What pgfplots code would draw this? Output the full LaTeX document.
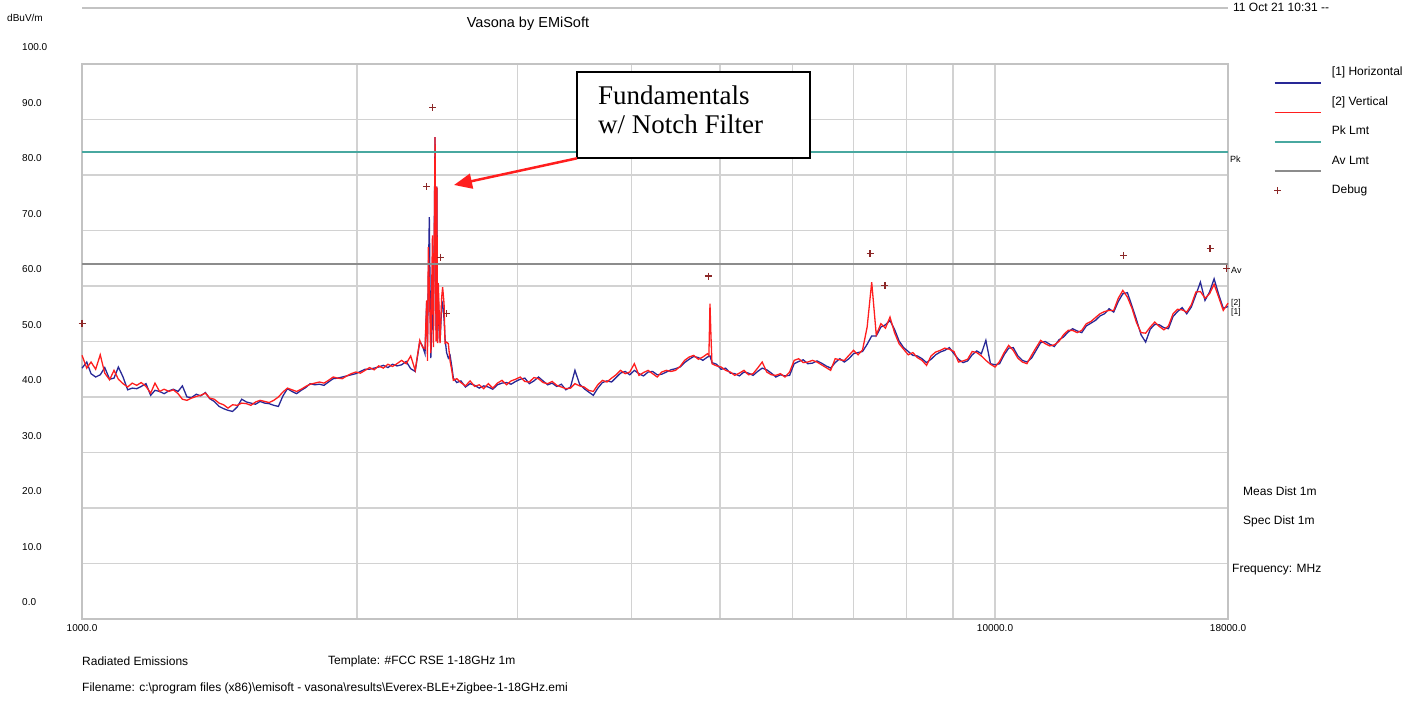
\documentclass[border=0pt]{standalone}
\usepackage{pgfplots}
\pgfplotsset{compat=1.18}
\usepackage{pgfplotstable}
\usepackage{fontspec}
\setmainfont{Liberation Sans}
\newfontfamily\serifann{Liberation Serif}
\usetikzlibrary{arrows.meta}
\definecolor{hblue}{RGB}{40,40,150}
\definecolor{vred}{RGB}{255,30,30}
\definecolor{pkteal}{RGB}{72,168,160}
\definecolor{avgray}{RGB}{140,140,140}
\definecolor{dbgred}{RGB}{140,40,40}
\definecolor{gridgray}{RGB}{210,210,210}
\definecolor{framegray}{RGB}{195,195,195}

\pgfplotsset{
  shiftline legend/.style={legend image code/.code={\draw[##1,overlay] (0pt,-10pt) -- (46pt,-10pt); \path[draw=none,fill=none] (0pt,0pt) -- (46pt,0pt);}},
  markonly legend/.style={legend image code/.code={\draw[##1] plot coordinates {(3pt,0pt)}; \path[draw=none,fill=none] (0pt,0pt) -- (46pt,0pt);}},
}

\pgfplotstableread{
f v
1000 45.2
1012 46.3
1023 44.2
1035 43.6
1047 44.0
1059 45.3
1072 43.2
1084 43.4
1096 45.4
1109 43.6
1122 41.3
1135 41.6
1148 41.5
1161 41.9
1175 42.4
1189 40.3
1202 41.2
1216 41.0
1230 40.6
1245 41.1
1259 41.4
1274 41.0
1288 42.0
1303 40.0
1318 39.9
1334 40.5
1349 40.2
1365 40.8
1380 39.7
1396 39.2
1413 38.3
1429 37.9
1445 37.6
1462 37.4
1479 38.2
1496 39.6
1514 39.1
1531 38.9
1549 38.7
1567 39.2
1585 38.9
1603 38.8
1622 38.5
1641 38.3
1660 40.2
1679 41.5
1698 41.0
1718 40.6
1738 41.2
1758 41.7
1778 42.4
1799 42.2
1820 42.3
1841 42.1
1862 42.7
1884 43.3
1905 43.4
1928 43.6
1950 43.8
1972 44.0
1995 44.2
2018 44.6
2042 45.0
2065 45.0
2089 45.2
2113 45.4
2138 45.7
2163 45.3
2188 45.9
2213 45.6
2239 45.8
2265 46.4
2291 45.1
2317 44.6
2344 50.0
2360 49.2
2375 47.8
2385 57.0
2390 50.0
2395 61.0
2401 72.4
2410 47.0
2420 56.0
2426 52.0
2436 86.8
2442 52.0
2447 77.9
2452 50.5
2456 58.0
2467 50.0
2477 56.5
2483 57.0
2492 54.0
2498 50.5
2508 48.0
2519 47.0
2530 47.5
2541 45.5
2551 43.4
2573 42.6
2600 42.9
2630 41.8
2661 42.4
2692 42.1
2723 41.6
2754 42.0
2786 41.8
2818 41.4
2851 42.2
2884 42.5
2917 42.6
2951 42.3
2985 42.8
3020 43.2
3055 43.4
3090 42.4
3126 42.9
3162 43.6
3199 42.9
3236 42.2
3273 42.5
3311 41.9
3350 42.3
3388 41.3
3428 41.8
3467 44.8
3508 42.3
3548 41.5
3589 40.9
3631 40.3
3673 41.6
3715 42.6
3758 42.9
3802 42.7
3846 43.5
3890 44.3
3936 44.6
3981 44.0
4027 44.8
4074 44.2
4121 43.8
4169 44.5
4217 44.6
4266 44.0
4315 44.1
4365 44.5
4416 44.9
4467 45.1
4519 45.4
4571 46.2
4624 46.8
4677 47.3
4732 47.1
4786 46.6
4842 47.2
4873 47.4
4898 46.2
4955 45.9
5012 45.0
5070 45.2
5129 44.3
5188 44.2
5248 43.8
5309 44.5
5370 44.3
5433 43.9
5495 44.6
5559 45.2
5623 44.9
5689 44.3
5754 43.6
5821 44.0
5888 43.8
5957 43.9
6026 46.0
6095 46.4
6166 46.7
6237 46.0
6310 46.1
6383 46.5
6457 46.1
6531 45.6
6607 45.2
6683 46.2
6761 46.9
6839 46.3
6918 46.9
6998 47.8
7079 48.0
7161 48.2
7244 49.5
7328 51.0
7413 51.0
7499 52.6
7586 53.0
7674 53.8
7762 52.2
7852 50.1
7943 48.9
8035 48.2
8128 47.5
8222 47.4
8318 46.9
8414 46.2
8511 46.8
8610 47.6
8710 48.1
8810 48.4
8913 48.9
9016 47.8
9120 46.8
9226 46.2
9333 46.5
9441 47.6
9550 48.3
9661 47.8
9772 50.2
9886 46.0
10000 45.8
10116 46.0
10233 47.6
10351 48.8
10471 48.9
10593 47.4
10715 46.6
10839 46.3
10965 47.0
11092 48.4
11220 49.8
11350 50.0
11482 49.5
11615 49.1
11749 50.3
11885 50.8
12023 51.7
12162 52.3
12303 51.9
12445 51.6
12589 52.8
12735 53.3
12882 53.8
13031 54.6
13183 55.0
13335 55.9
13490 55.3
13646 57.2
13804 58.6
13964 58.8
14125 56.4
14289 53.9
14454 51.2
14621 49.9
14791 52.2
14962 53.1
15136 53.0
15311 52.5
15488 52.3
15668 54.5
15849 55.4
16032 56.1
16218 55.0
16406 56.2
16596 58.4
16788 60.7
16982 57.4
17179 58.9
17378 61.3
17579 58.5
17783 56.0
18000 56.3
}\horiz

\pgfplotstableread{
f v
1000 47.5
1012 45.2
1023 46.3
1035 45.0
1047 47.6
1059 44.3
1072 43.1
1084 44.8
1096 43.2
1109 42.4
1122 41.8
1135 42.5
1148 42.1
1161 42.6
1175 41.9
1189 40.7
1202 42.5
1216 41.0
1230 41.4
1245 41.0
1259 41.3
1274 40.6
1288 39.6
1303 39.4
1318 39.8
1334 40.1
1349 40.3
1365 40.7
1380 39.8
1396 39.6
1413 38.9
1429 38.6
1445 38.0
1462 38.6
1479 38.5
1496 38.9
1514 38.8
1531 38.5
1549 39.1
1567 39.4
1585 39.2
1603 39.0
1622 39.4
1641 40.0
1660 40.9
1679 41.6
1698 41.3
1718 41.0
1738 41.4
1758 41.9
1778 42.3
1799 42.5
1820 42.7
1841 42.5
1862 43.0
1884 43.6
1905 43.4
1928 43.3
1950 43.8
1972 44.2
1995 44.5
2018 44.3
2042 44.8
2065 45.3
2089 44.9
2113 45.6
2138 45.2
2163 45.9
2188 45.5
2213 46.0
2239 46.6
2265 46.0
2291 47.4
2317 44.8
2344 50.2
2360 49.0
2375 48.7
2385 57.4
2390 46.5
2395 67.0
2401 60.0
2410 47.9
2420 69.1
2426 49.0
2436 86.8
2442 50.0
2447 77.9
2452 49.7
2456 60.5
2467 49.7
2477 58.0
2483 59.8
2492 56.8
2498 49.7
2508 49.9
2519 49.6
2530 46.5
2541 44.8
2551 43.0
2573 43.3
2600 42.6
2630 42.0
2661 42.9
2692 41.9
2723 42.2
2754 41.5
2786 42.4
2818 41.6
2851 42.5
2884 43.0
2917 42.2
2951 42.9
2985 43.2
3020 43.6
3055 42.8
3090 42.7
3126 43.5
3162 43.3
3199 42.6
3236 42.4
3273 42.8
3311 42.1
3350 41.8
3388 41.5
3428 41.6
3467 42.4
3508 42.0
3548 41.8
3589 41.2
3631 41.0
3673 42.2
3715 43.0
3758 42.7
3802 43.4
3846 44.0
3890 44.8
3936 44.2
3981 44.5
4027 46.0
4074 43.9
4121 44.4
4169 44.8
4217 44.2
4266 43.6
4315 44.5
4365 44.8
4416 44.6
4467 44.8
4519 45.5
4571 46.6
4624 47.2
4677 47.5
4732 46.8
4786 47.2
4842 47.8
4860 47.5
4873 56.8
4885 51.1
4898 46.0
4955 45.6
5012 45.4
5070 44.8
5129 44.5
5188 43.9
5248 44.3
5309 44.8
5370 44.0
5433 44.2
5495 45.2
5559 46.3
5623 44.5
5689 44.0
5754 43.9
5821 44.2
5888 43.6
5957 44.5
6026 46.6
6095 46.9
6166 46.2
6237 46.3
6310 46.6
6383 46.3
6457 45.8
6531 45.3
6607 44.8
6683 46.9
6761 46.7
6839 46.6
6918 47.5
6998 48.4
7079 47.6
7161 48.5
7244 52.6
7328 60.7
7413 51.2
7499 53.2
7586 52.4
7674 54.4
7762 51.6
7852 49.6
7943 48.6
8035 47.6
8128 48.0
8222 47.1
8318 46.6
8414 45.7
8511 47.4
8610 48.1
8710 48.4
8810 48.8
8913 48.6
9016 48.2
9120 46.3
9226 46.5
9333 46.8
9441 48.2
9550 48.0
9661 47.4
9772 46.6
9886 45.9
10000 45.4
10116 46.4
10233 48.0
10351 49.3
10471 48.4
10593 47.0
10715 46.3
10839 46.0
10965 47.5
11092 48.9
11220 50.2
11350 49.6
11482 49.2
11615 49.4
11749 50.0
11885 51.2
12023 52.0
12162 52.0
12303 51.6
12445 52.0
12589 53.2
12735 53.6
12882 54.3
13031 55.0
13183 55.4
13335 55.6
13490 55.6
13646 57.8
13804 59.2
13964 58.0
14125 56.0
14289 53.4
14454 51.6
14621 51.5
14791 52.6
14962 53.5
15136 52.7
15311 52.1
15488 52.8
15668 55.0
15849 55.8
16032 55.7
16218 55.3
16406 56.6
16596 58.9
16788 59.0
16982 57.8
17179 58.6
17378 60.3
17579 58.0
17783 55.6
18000 56.9
}\vert

\pgfplotstableread{
f v
1000 53.3
2385 77.9
2422 92.2
2471 65.2
2508 55.0
4853 61.8
7297 65.8
7578 60.1
13820 65.5
17200 66.7
17940 63.1
}\debug

\begin{document}
\begin{tikzpicture}
\begin{axis}[
  scale only axis, width=1146pt, height=555pt,
  xmode=log, xmin=1000, xmax=18000, ymin=0, ymax=100,
  axis line style={framegray, line width=1.5pt},
  xtick={1000,10000,18000},
  xticklabels={1000.0,10000.0,18000.0},
  minor xtick={2000,3000,4000,5000,6000,7000,8000,9000},
  ytick={0,10,20,30,40,50,60,70,80,90,100},
  yticklabels={0.0,10.0,20.0,30.0,40.0,50.0,60.0,70.0,80.0,90.0,100.0},
  major tick length=0pt, minor tick length=0pt,
  grid=both,
  major grid style={gridgray, line width=1.5pt},
  minor grid style={gridgray, line width=1.5pt},
  tick label style={font=\fontsize{10}{10}\selectfont, inner sep=0pt},
  /pgf/number format/assume math mode=true,
  yticklabel style={anchor=west, xshift=-60pt, yshift=16.5pt},
  xticklabel style={anchor=north, yshift=-5pt},
  clip=false,
  legend style={at={(axis description cs:1.0401,0.9946)}, anchor=north west,
    draw=none, fill=none, inner sep=0pt, outer sep=0pt,
    row sep=17.4pt, column sep=11.4pt,
    font=\fontsize{12}{12}\selectfont,
    nodes={inner sep=0pt, text height=9pt, text depth=3pt}},
  legend cell align=left,
]
\addplot[hblue, line width=1.3pt, shiftline legend] table[x=f,y=v] {\horiz};
\addlegendentry{[1] Horizontal}
\addplot[vred, line width=1.3pt, shiftline legend] table[x=f,y=v] {\vert};
\addlegendentry{[2] Vertical}
\addplot[pkteal, line width=1.6pt, shiftline legend] coordinates {(1000,84.1) (18000,84.1)};
\addlegendentry{Pk Lmt}
\addplot[avgray, line width=1.6pt, shiftline legend] coordinates {(1000,64.0) (18000,64.0)};
\addlegendentry{Av Lmt}
\addplot[only marks, mark=+, mark size=3.5pt, dbgred, line width=1.2pt, markonly legend] table[x=f,y=v] {\debug};
\addlegendentry{Debug}
\end{axis}
\begin{scope}[x=1pt,y=-1pt,shift={(-82pt,619pt)}]
  \draw[framegray, line width=1.2pt] (82,8) -- (1228,8);
  \node[font=\fontsize{10}{10}\selectfont, inner sep=0pt] at (25,18) {dBuV/m};
  \node[font=\fontsize{14.5}{14.5}\selectfont, inner sep=0pt] at (528,24) {Vasona by EMiSoft};
  \node[anchor=base west, font=\fontsize{12}{12}\selectfont, inner sep=0pt] at (1233,12) {11 Oct 21 10:31 -{}-};
  \node[anchor=west, font=\fontsize{9}{9}\selectfont, inner sep=0pt] at (1230,159) {Pk};
  \node[anchor=west, font=\fontsize{9}{9}\selectfont, inner sep=0pt] at (1231,270) {Av};
  \node[anchor=west, font=\fontsize{8.5}{8.5}\selectfont, inner sep=0pt] at (1231,303.5) {[2]};
  \node[anchor=west, font=\fontsize{8.5}{8.5}\selectfont, inner sep=0pt] at (1231,312) {[1]};
  \node[anchor=west, font=\fontsize{12}{12}\selectfont, inner sep=0pt] at (1243,491) {Meas Dist 1m};
  \node[anchor=west, font=\fontsize{12}{12}\selectfont, inner sep=0pt] at (1243,521) {Spec Dist 1m};
  \node[anchor=west, font=\fontsize{12}{12}\selectfont, inner sep=0pt] at (1232,570) {Frequency: MHz};
  \node[anchor=west, font=\fontsize{12}{12}\selectfont, inner sep=0pt] at (82,661) {Radiated Emissions};
  \node[anchor=west, font=\fontsize{12}{12}\selectfont, inner sep=0pt] at (328,661) {Template: \#FCC RSE 1-18GHz 1m};
  \node[anchor=west, font=\fontsize{12}{12}\selectfont, inner sep=0pt] at (82,688) {Filename: c:\textbackslash program files (x86)\textbackslash emisoft - vasona\textbackslash results\textbackslash Everex-BLE+Zigbee-1-18GHz.emi};
  \draw[black, line width=1.8pt, fill=white] (577,71.7) rectangle (810,158.3);
  \node[anchor=base west, font=\serifann\fontsize{27}{27}\selectfont, inner sep=0pt] at (598,105) {Fundamentals};
  \node[anchor=base west, font=\serifann\fontsize{27}{27}\selectfont, inner sep=0pt] at (598,134) {w/ Notch Filter};
  \draw[vred, line width=2.5pt, -{Triangle[length=18pt,width=15pt]}] (577,158.3) -- (454,185);
  \pgfresetboundingbox
  \path[use as bounding box] (0,0) rectangle (1416,701);
\end{scope}
\end{tikzpicture}
\end{document}
